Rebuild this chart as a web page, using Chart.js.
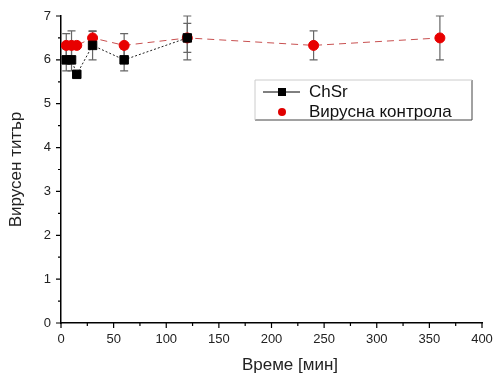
<!DOCTYPE html>
<html>
<head>
<meta charset="utf-8">
<script src="https://cdn.jsdelivr.net/npm/chart.js@4/dist/chart.umd.min.js"></script>
<style>
    html, body { margin: 0; padding: 0; background: #fff; }
    #wrap { width: 495px; height: 374px; position: relative; }
</style>
</head>
<body>
<div id="wrap"><canvas id="titer-chart"></canvas></div>
<script>
// time points (min) and titers
const chsrTimes = [5, 10, 15, 30, 60, 120];
const chsrTiter = [6, 6, 5.67, 6.33, 6, 6.5];
const chsrErr = [0.25, 0.25, 0, 0.33, 0.25, 0.5];

const ctrlTimes = [5, 10, 15, 30, 60, 120, 240, 360];
const ctrlTiter = [6.33, 6.33, 6.33, 6.5, 6.33, 6.5, 6.33, 6.5];
const ctrlErr = [0.27, 0.33, 0, 0.15, 0.27, 0.33, 0.33, 0.5];

const xTicks = [0, 50, 100, 150, 200, 250, 300, 350, 400];
const yTicks = [0, 1, 2, 3, 4, 5, 6, 7];

const FONT = 'Liberation Sans, Arial, sans-serif';

const toPoints = (xs, ys) => xs.map((x, i) => ({ x, y: ys[i] }));

// error bars, major/minor tick marks, axis titles and the legend box
const decorPlugin = {
    id: 'decor',
    beforeDatasetsDraw(chart) {
        const { ctx, scales: { x, y } } = chart;
        ctx.save();
        ctx.strokeStyle = '#666';
        ctx.lineWidth = 1.2;
        const bars = [[chsrTimes, chsrTiter, chsrErr], [ctrlTimes, ctrlTiter, ctrlErr]];
        bars.forEach(([xs, ys, es]) => {
            xs.forEach((t, i) => {
                if (!es[i]) return;
                const px = x.getPixelForValue(t);
                const top = y.getPixelForValue(ys[i] + es[i]);
                const bot = y.getPixelForValue(ys[i] - es[i]);
                ctx.beginPath();
                ctx.moveTo(px, top); ctx.lineTo(px, bot);
                ctx.moveTo(px - 4, top); ctx.lineTo(px + 4, top);
                ctx.moveTo(px - 4, bot); ctx.lineTo(px + 4, bot);
                ctx.stroke();
            });
        });
        ctx.restore();
    },
    afterDraw(chart) {
        const { ctx, scales: { x, y }, chartArea } = chart;
        ctx.save();
        ctx.strokeStyle = '#000';
        ctx.lineWidth = 1.2;
        ctx.beginPath();
        for (let v = 0; v <= 400; v += 25) {
            const px = x.getPixelForValue(v);
            const len = v % 50 === 0 ? 5 : 3;
            ctx.moveTo(px, chartArea.bottom); ctx.lineTo(px, chartArea.bottom + len);
        }
        for (let v = 0; v <= 7; v += 0.5) {
            const py = y.getPixelForValue(v);
            const len = v % 1 === 0 ? 5 : 3;
            ctx.moveTo(chartArea.left, py); ctx.lineTo(chartArea.left - len, py);
        }
        ctx.stroke();

        // axis titles
        ctx.fillStyle = '#222';
        ctx.font = '17px ' + FONT;
        ctx.textAlign = 'center';
        ctx.textBaseline = 'middle';
        ctx.fillText('Време [мин]', 290, 365);
        ctx.save();
        ctx.translate(16, (chartArea.top + chartArea.bottom) / 2);
        ctx.rotate(-Math.PI / 2);
        ctx.fillText('Вирусен титър', 0, 0);
        ctx.restore();

        // legend
        const lx = 255, ly = 80, lw = 217, lh = 40;
        ctx.strokeStyle = '#444';
        ctx.lineWidth = 1;
        ctx.beginPath();
        ctx.moveTo(lx + lw, ly); ctx.lineTo(lx + lw, ly + lh); ctx.lineTo(lx, ly + lh);
        ctx.stroke();
        ctx.strokeStyle = '#ccc';
        ctx.beginPath();
        ctx.moveTo(lx, ly + lh); ctx.lineTo(lx, ly); ctx.lineTo(lx + lw, ly);
        ctx.stroke();

        ctx.strokeStyle = '#000';
        ctx.beginPath();
        ctx.moveTo(lx + 8, ly + 12); ctx.lineTo(lx + 45, ly + 12);
        ctx.stroke();
        ctx.fillStyle = '#000';
        ctx.fillRect(lx + 23, ly + 8, 8, 8);
        ctx.fillStyle = '#e00000';
        ctx.beginPath();
        ctx.arc(lx + 27, ly + 32, 4, 0, Math.PI * 2);
        ctx.fill();

        ctx.fillStyle = '#111';
        ctx.font = '17px ' + FONT;
        ctx.textAlign = 'left';
        ctx.fillText('ChSr', lx + 54, ly + 12);
        ctx.fillText('Вирусна контрола', lx + 54, ly + 32);
        ctx.restore();
    }
};

new Chart(document.getElementById('titer-chart'), {
    type: 'scatter',
    data: {
        datasets: [
            {
                label: 'Вирусна контрола',
                data: toPoints(ctrlTimes, ctrlTiter),
                showLine: true,
                borderColor: '#c85050',
                borderWidth: 1,
                borderDash: [7, 5],
                pointStyle: 'circle',
                pointRadius: 5,
                pointBackgroundColor: '#e80000',
                pointBorderColor: '#e80000',
                order: 2
            },
            {
                label: 'ChSr',
                data: toPoints(chsrTimes, chsrTiter),
                showLine: true,
                borderColor: '#222',
                borderWidth: 1,
                borderDash: [2, 2],
                pointStyle: 'rect',
                pointRadius: 6,
                pointBackgroundColor: '#000',
                pointBorderColor: '#000',
                order: 1
            }
        ]
    },
    options: {
        responsive: true,
        maintainAspectRatio: false,
        animation: false,
        layout: { padding: { top: 16, right: 13, left: 0, bottom: 0 } },
        plugins: { legend: { display: false }, tooltip: { enabled: false } },
        scales: {
            x: {
                type: 'linear',
                min: 0,
                max: 400,
                afterFit: (s) => { s.height = 51; s.paddingLeft = 0; s.paddingRight = 0; },
                afterBuildTicks: (s) => { s.ticks = xTicks.map(v => ({ value: v })); },
                grid: { display: false, drawTicks: false },
                border: { display: true, color: '#000', width: 1.5 },
                ticks: { color: '#222', padding: 9, maxRotation: 0, font: { family: FONT, size: 13 } }
            },
            y: {
                type: 'linear',
                min: 0,
                max: 7,
                afterFit: (s) => { s.width = 61; s.paddingTop = 0; s.paddingBottom = 0; },
                afterBuildTicks: (s) => { s.ticks = yTicks.map(v => ({ value: v })); },
                grid: { display: false, drawTicks: false },
                border: { display: true, color: '#000', width: 1.5 },
                ticks: { color: '#222', padding: 10, font: { family: FONT, size: 13 } }
            }
        }
    },
    plugins: [decorPlugin]
});
</script>
</body>
</html>
